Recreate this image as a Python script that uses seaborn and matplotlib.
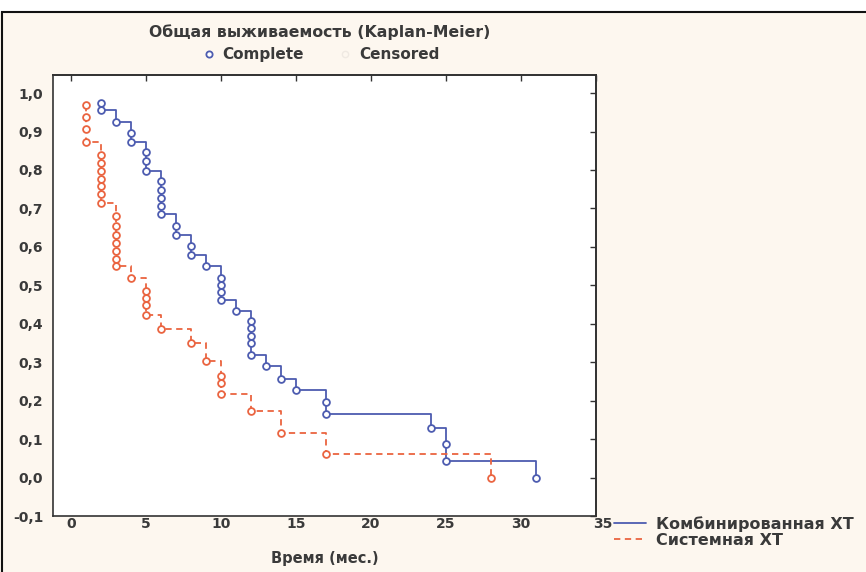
import numpy as np
import pandas as pd
import matplotlib
matplotlib.use("Agg")
import matplotlib.pyplot as plt
import matplotlib.transforms as mtransforms
import seaborn as sns
from matplotlib.lines import Line2D
from matplotlib.patches import Rectangle

# ---- data (event times, survival after each event) ----
comb_time = [2, 2, 3, 4, 4, 5, 5, 5, 6, 6, 6, 6, 6, 7, 7, 8, 8, 9,
             10, 10, 10, 10, 11, 12, 12, 12, 12, 12, 13, 14, 15, 17, 17, 24, 25, 25, 31]
comb_surv = [0.975, 0.955, 0.925, 0.897, 0.874, 0.847, 0.822, 0.797,
             0.770, 0.748, 0.727, 0.706, 0.685, 0.653, 0.631, 0.602, 0.580, 0.549,
             0.519, 0.500, 0.482, 0.462, 0.432, 0.406, 0.388, 0.369, 0.350, 0.318,
             0.289, 0.257, 0.229, 0.196, 0.164, 0.129, 0.088, 0.044, 0.0]

sys_time = [1, 1, 1, 1, 2, 2, 2, 2, 2, 2, 2, 3, 3, 3, 3, 3, 3, 3, 4,
            5, 5, 5, 5, 6, 8, 9, 10, 10, 10, 12, 14, 17, 28]
sys_surv = [0.969, 0.939, 0.907, 0.874,
            0.839, 0.818, 0.796, 0.777, 0.757, 0.738, 0.714,
            0.679, 0.653, 0.631, 0.610, 0.588, 0.569, 0.549,
            0.519, 0.484, 0.466, 0.449, 0.423, 0.387, 0.350, 0.304,
            0.263, 0.245, 0.217, 0.174, 0.116, 0.060, 0.0]

group_names = ["Комбинированная ХТ", "Системная ХТ"]
x_ticks = [0, 5, 10, 15, 20, 25, 30, 35]
y_ticks = [-0.1, 0.0, 0.1, 0.2, 0.3, 0.4, 0.5, 0.6, 0.7, 0.8, 0.9, 1.0]

legend_title = "Общая выживаемость (Kaplan-Meier)"
legend_items = ["Complete", "Censored"]
x_label = "Время (мес.)"

BLUE = "#4d5cb0"
RED = "#ea6440"
TXT = "#3a3a3a"

df = pd.concat([
    pd.DataFrame({"t": comb_time, "s": comb_surv, "g": group_names[0]}),
    pd.DataFrame({"t": sys_time, "s": sys_surv, "g": group_names[1]}),
], ignore_index=True)

sns.set_theme(style="white")
plt.rcParams["font.family"] = ["DejaVu Sans"]

fig = plt.figure(figsize=(8.66, 5.72), dpi=100, facecolor="#fdf7ef")
ax = fig.add_axes([53 / 866, 1 - 516 / 572, 543 / 866, (516 - 74.6) / 572])
ax.set_facecolor("white")

palette = {group_names[0]: BLUE, group_names[1]: RED}
sns.lineplot(data=df, x="t", y="s", hue="g", style="g", palette=palette,
             dashes={group_names[0]: "", group_names[1]: (3.5, 2.5)},
             sort=False, estimator=None, drawstyle="steps-post",
             linewidth=1.3, legend=False, ax=ax, zorder=2)
for g in group_names:
    sub = df[df["g"] == g]
    sns.scatterplot(x=sub["t"], y=sub["s"], marker="o", s=24,
                    facecolor="white", edgecolor=palette[g], linewidth=1.3,
                    ax=ax, zorder=3, legend=False)

ax.set_xlim(-1.2, 35)
ax.set_ylim(-0.1, 1.048)
ax.set_xticks(x_ticks)
ax.set_xticklabels([str(v) for v in x_ticks])
ax.set_yticks(y_ticks)
ax.set_yticklabels([f"{v:.1f}".replace(".", ",") for v in y_ticks])
ax.set_xlabel(x_label, fontsize=10.5, fontweight="bold", color=TXT, labelpad=14)
ax.set_ylabel("")
for sp in ax.spines.values():
    sp.set_color("#333333")
    sp.set_linewidth(1.2)
ax.tick_params(axis="y", direction="out", length=4, width=1, color="#333333",
               labelsize=10, labelcolor=TXT, pad=3)
ax.tick_params(axis="x", direction="in", length=4, width=1, color="#333333",
               labelsize=10, labelcolor=TXT, pad=1)
for lab in ax.get_xticklabels() + ax.get_yticklabels():
    lab.set_fontweight("bold")
# the last x label sits a little to the right of the frame corner
last = ax.get_xticklabels()[-1]
last.set_transform(last.get_transform() +
                   mtransforms.ScaledTranslation(7 / 100, 0, fig.dpi_scale_trans))

sec_r = ax.secondary_yaxis("right")
sec_r.set_yticks(y_ticks)
sec_r.tick_params(direction="in", length=4, width=1, color="#333333", labelright=False)
sec_t = ax.secondary_xaxis("top")
sec_t.set_xticks(x_ticks)
sec_t.tick_params(direction="in", length=4, width=1, color="#333333", labeltop=False)

# top legend (Complete / Censored)
h_top = [Line2D([], [], ls="", marker="o", ms=4.5, mfc="white", mec=BLUE, mew=1.3),
         Line2D([], [], ls="", marker="o", ms=4.5, mfc="none", mec="#efe9e2", mew=1.0)]
leg1 = fig.legend(h_top, legend_items, ncol=2, title=legend_title,
                  loc="center", bbox_to_anchor=(320 / 866, 1 - 43 / 572),
                  frameon=False, fontsize=11, title_fontsize=11.3,
                  handlelength=1.0, handletextpad=0.4, columnspacing=2.2,
                  borderpad=0.1, labelspacing=0.5)
leg1.get_title().set_fontweight("bold")
leg1.get_title().set_color(TXT)
for t in leg1.get_texts():
    t.set_fontweight("bold")
    t.set_color(TXT)

# bottom-right legend (groups)
h_bot = [Line2D([], [], color=BLUE, lw=1.3),
         Line2D([], [], color=RED, lw=1.3, dashes=(3.5, 2.5))]
leg2 = fig.legend(h_bot, group_names, loc="upper left",
                  bbox_to_anchor=(606 / 866, 1 - 508 / 572), frameon=False,
                  fontsize=11.5, handlelength=2.0, handletextpad=0.6,
                  labelspacing=0.05, borderpad=0.0)
for t in leg2.get_texts():
    t.set_fontweight("bold")
    t.set_color(TXT)

# outer frame of the picture
fig.add_artist(Rectangle((2 / 866, -0.05), 1.2, 1 - 12 / 572 + 0.05,
                         transform=fig.transFigure, fill=False,
                         edgecolor="#111111", linewidth=1.5))
fig.add_artist(Rectangle((0, 1 - 12 / 572), 1, 12 / 572, transform=fig.transFigure,
                         facecolor="white", edgecolor="none", zorder=-1))

fig.savefig("out.png", dpi=100, facecolor=fig.get_facecolor())
